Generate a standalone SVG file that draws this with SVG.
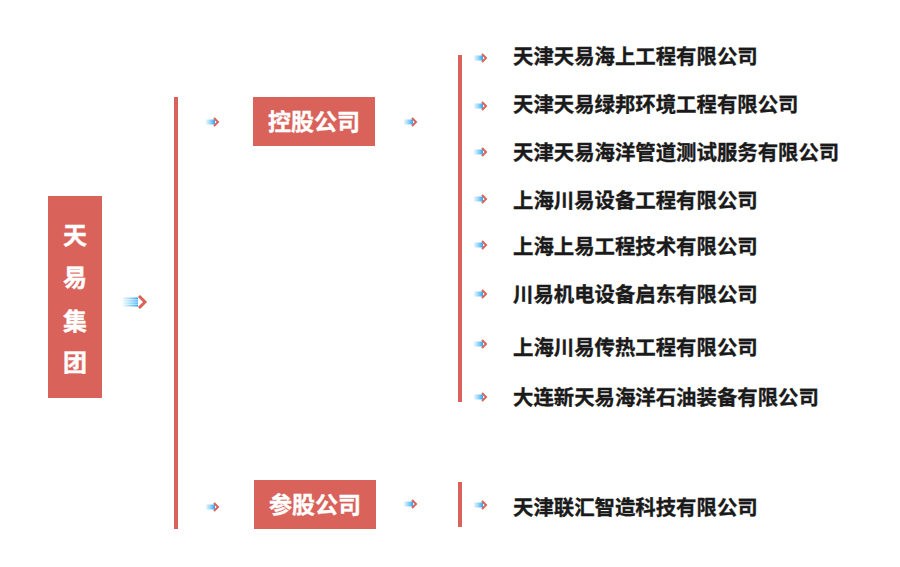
<svg xmlns="http://www.w3.org/2000/svg" width="900" height="567" viewBox="0 0 900 567">
<defs>
<linearGradient id="blue" x1="0" y1="0" x2="1" y2="0">
<stop offset="0" stop-color="#5bc0f8" stop-opacity="0.15"/>
<stop offset="1" stop-color="#2aa3ef"/>
</linearGradient>
<g id="arr">
<rect x="0" y="-2.5" width="9" height="5" fill="url(#blue)"/>
<path d="M8,-4 L12,0 L8,4" fill="none" stroke="#d9625a" stroke-width="2"/>
</g>
<g id="bigarr">
<rect x="0" y="-4.5" width="15" height="9" fill="url(#blue)"/>
<g stroke="#fff" stroke-width="0.8">
<line x1="0" y1="-2.2" x2="15" y2="-2.2"/>
<line x1="0" y1="0" x2="15" y2="0"/>
<line x1="0" y1="2.2" x2="15" y2="2.2"/>
</g>
<path d="M16,-6 L22,0 L16,6" fill="none" stroke="#d9625a" stroke-width="3"/>
</g>
</defs>
<style>
.box{fill:#d9625a}
.wt{fill:#fff;stroke:#fff;stroke-width:0.4;font-family:"Noto Sans CJK SC",sans-serif;font-weight:bold;text-anchor:middle}
.co{fill:#1a1a1a;stroke:#1a1a1a;stroke-width:0.35;font-family:"Noto Sans CJK SC",sans-serif;font-weight:bold;font-size:20.4px}
.ln{fill:#d9625a}
</style>
<rect width="900" height="567" fill="#fff"/>
<g id="connectors">
<rect class="ln" x="174" y="97" width="4" height="432"/>
<rect class="ln" x="458" y="55" width="4" height="347"/>
<rect class="ln" x="458" y="482" width="4" height="45"/>
<use href="#bigarr" x="123" y="302"/>
<use href="#arr" x="206" y="122"/>
<use href="#arr" x="404" y="122"/>
<use href="#arr" x="206" y="507"/>
<use href="#arr" x="404" y="504"/>
<use href="#arr" x="474" y="58"/>
<use href="#arr" x="474" y="106"/>
<use href="#arr" x="474" y="152"/>
<use href="#arr" x="474" y="199"/>
<use href="#arr" x="474" y="245"/>
<use href="#arr" x="474" y="294"/>
<use href="#arr" x="474" y="344"/>
<use href="#arr" x="474" y="397"/>
<use href="#arr" x="474" y="505"/>
</g>
<g id="root">
<rect class="box" x="48" y="196" width="54" height="202"/>
<text class="wt" font-size="24" x="75" y="244">天</text>
<text class="wt" font-size="24" x="75" y="286">易</text>
<text class="wt" font-size="24" x="75" y="330">集</text>
<text class="wt" font-size="24" x="75" y="371">团</text>
</g>
<g id="konggu">
<rect class="box" x="253" y="97" width="122" height="49"/>
<text class="wt" font-size="23" x="314" y="130">控股公司</text>
</g>
<g id="cangu">
<rect class="box" x="254" y="480" width="122" height="49"/>
<text class="wt" font-size="23" x="315" y="513">参股公司</text>
</g>
<g id="c1"><text class="co" x="513" y="64">天津天易海上工程有限公司</text></g>
<g id="c2"><text class="co" x="513" y="112">天津天易绿邦环境工程有限公司</text></g>
<g id="c3"><text class="co" x="513" y="160">天津天易海洋管道测试服务有限公司</text></g>
<g id="c4"><text class="co" x="513" y="208">上海川易设备工程有限公司</text></g>
<g id="c5"><text class="co" x="513" y="254">上海上易工程技术有限公司</text></g>
<g id="c6"><text class="co" x="513" y="302">川易机电设备启东有限公司</text></g>
<g id="c7"><text class="co" x="513" y="355">上海川易传热工程有限公司</text></g>
<g id="c8"><text class="co" x="513" y="405">大连新天易海洋石油装备有限公司</text></g>
<g id="c9"><text class="co" x="513" y="515">天津联汇智造科技有限公司</text></g>
</svg>
